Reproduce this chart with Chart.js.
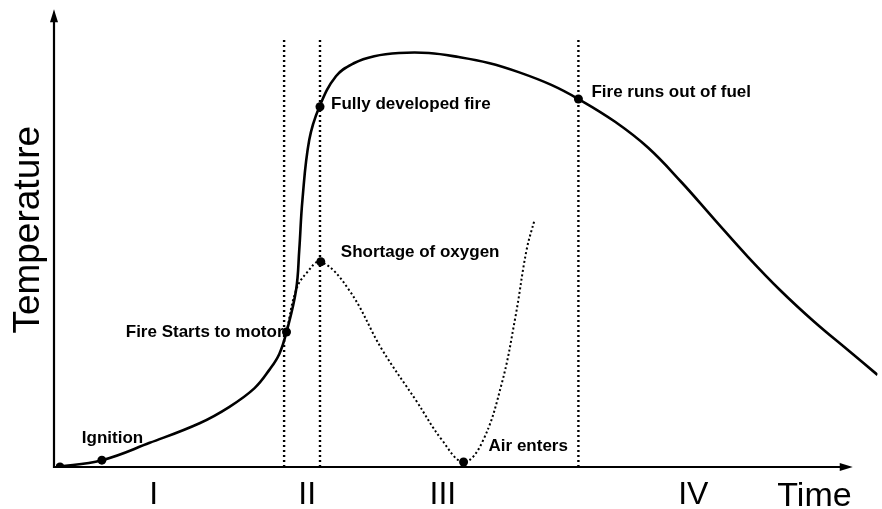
<!DOCTYPE html>
<html><head><meta charset="utf-8">
<script src="https://cdn.jsdelivr.net/npm/chart.js@4/dist/chart.umd.min.js"></script>
<style>html,body{margin:0;padding:0;background:#fff}#wrap{width:882px;height:509px;position:relative}canvas{display:block}</style>
</head><body><div id="wrap"><canvas id="c" width="882" height="509"></canvas></div>
<script>
// ---- data (time / temperature in arbitrary units) ----
const solidX = [0, 5.75, 11.75, 18, 21.75, 24.9, 26.75, 28, 28.9, 30.1, 30.5, 30.9, 31.75, 33, 35.1, 37.4, 39.9, 43, 46.75, 50.5, 54.25, 58, 62.1, 65.5, 70.1, 74.25, 78.4, 82.6, 86.75, 90.9, 95.1, 99.25, 103];
const solidY = [0, 1.5, 5.3, 9.6, 13.2, 17.3, 21.3, 24.8, 29.6, 38.8, 47.6, 58.6, 71.7, 78.9, 85.7, 88.6, 90.1, 90.8, 90.8, 89.9, 88.6, 86.6, 83.8, 80.7, 75.7, 70.0, 62.5, 54.2, 46.1, 38.6, 31.8, 25.7, 20.2];
const dottedX = [28.9, 30.1, 31.4, 33.2, 36.75, 40.9, 45.1, 48.4, 51.1, 53.4, 55.9, 57.6, 59, 60];
const dottedY = [29.6, 38.8, 42.5, 45.0, 38.8, 25.7, 14.7, 5.9, 1.1, 5.3, 18.4, 32.9, 47.6, 54.2];
const eventNames = ['', 'Ignition', 'Fire Starts to motor', 'Fully developed fire', 'Shortage of oxygen', 'Fire runs out of fuel', 'Air enters'];
const eventX = [0.5, 5.75, 28.9, 33.1, 33.2, 65.5, 51.1];
const eventY = [0, 1.5, 29.6, 79.0, 45.0, 80.7, 1.1];
const dividerX = [28.6, 33.1, 65.5];
const dividerTop = 93.8;
const tickValues = [12.25, 31.5, 48.5, 79.9, 95.1];
const tickLabels = ['I', 'II', 'III', 'IV', 'Time'];
const axisXEnd = 99.9;
const axisYEnd = 100.4;

// ---- styles ----
const labelStyle = [null,
  {dx: -20, dy: -17, align: 'left'},
  {dx: -3, dy: 5, align: 'right'},
  {dx: 11, dy: 2, align: 'left'},
  {dx: 20, dy: -5, align: 'left'},
  {dx: 13, dy: -2, align: 'left'},
  {dx: 25, dy: -11, align: 'left'}];
const target = {left: 56, top: 11, right: 880, bottom: 467};

Chart.defaults.font.family = '"Liberation Sans", Arial, sans-serif';
Chart.defaults.color = '#000';

const pts = (xs, ys) => xs.map((x, i) => ({x, y: ys[i]}));

const datasets = [
  {data: pts(solidX, solidY), showLine: true, borderColor: '#000', borderWidth: 2.6,
   pointRadius: 0, tension: 0.4},
  {data: pts(dottedX, dottedY), showLine: true, borderColor: '#000', borderWidth: 2,
   borderDash: [2, 2.5], pointRadius: 0, tension: 0.4}
];
dividerX.forEach(x => datasets.push({data: [{x, y: 0}, {x, y: dividerTop}], showLine: true,
  borderColor: '#000', borderWidth: 2.4, borderDash: [2, 3], pointRadius: 0}));
datasets.push({data: pts(eventX, eventY), showLine: false, pointRadius: 4.5,
  pointBackgroundColor: '#000', pointBorderColor: '#000', pointBorderWidth: 0});

const decor = {
  id: 'decor',
  beforeDatasetsDraw(chart) {
    const ctx = chart.ctx, sx = chart.scales.x, sy = chart.scales.y;
    const x0 = sx.getPixelForValue(0) - 2, y0 = sy.getPixelForValue(0);
    const xe = sx.getPixelForValue(axisXEnd), ye = sy.getPixelForValue(axisYEnd);
    ctx.save();
    ctx.strokeStyle = '#000'; ctx.fillStyle = '#000'; ctx.lineWidth = 2.2;
    ctx.beginPath(); ctx.moveTo(x0, y0 + 1); ctx.lineTo(x0, ye + 8); ctx.stroke();
    ctx.beginPath(); ctx.moveTo(x0 - 1, y0); ctx.lineTo(xe - 10, y0); ctx.stroke();
    ctx.beginPath(); ctx.moveTo(x0, ye); ctx.lineTo(x0 - 4, ye + 13); ctx.lineTo(x0 + 4, ye + 13); ctx.closePath(); ctx.fill();
    ctx.beginPath(); ctx.moveTo(xe, y0); ctx.lineTo(xe - 13, y0 - 4); ctx.lineTo(xe - 13, y0 + 4); ctx.closePath(); ctx.fill();
    ctx.restore();
  },
  afterDatasetsDraw(chart) {
    const ctx = chart.ctx, sx = chart.scales.x, sy = chart.scales.y;
    ctx.save();
    ctx.fillStyle = '#000';
    ctx.font = 'bold 17px "Liberation Sans", Arial, sans-serif';
    ctx.textBaseline = 'alphabetic';
    eventNames.forEach((name, i) => {
      if (!name) return;
      const st = labelStyle[i];
      ctx.textAlign = st.align;
      ctx.fillText(name, sx.getPixelForValue(eventX[i]) + st.dx, sy.getPixelForValue(eventY[i]) + st.dy);
    });
    ctx.restore();
  }
};

const pad = {left: 0, top: 0, right: 0, bottom: 0};
const chart = new Chart(document.getElementById('c'), {
  type: 'scatter',
  data: {datasets},
  options: {
    responsive: false, animation: false, devicePixelRatio: 1,
    layout: {padding: Object.assign({}, pad)},
    plugins: {legend: {display: false}, tooltip: {enabled: false}},
    scales: {
      x: {type: 'linear', min: 0, max: 103,
        grid: {display: false, drawTicks: false}, border: {display: false},
        afterBuildTicks: s => { s.ticks = tickValues.map(v => ({value: v})); },
        ticks: {autoSkip: false, maxRotation: 0, padding: 9,
          callback: (v, i) => tickLabels[i],
          font: c => ({size: (c.tick && tickLabels[c.index] === 'Time') ? 34 : 32})}},
      y: {type: 'linear', min: 0, max: 100,
        grid: {display: false, drawTicks: false}, border: {display: false},
        ticks: {display: false},
        title: {display: true, text: '\u2002Temperature', font: {size: 37}, padding: {top: 0, bottom: 5}}}
    }
  },
  plugins: [decor]
});
for (let k = 0; k < 4; k++) {
  const a = chart.chartArea;
  pad.left += target.left - a.left;
  pad.top += target.top - a.top;
  pad.right += a.right - target.right;
  pad.bottom += a.bottom - target.bottom;
  chart.options.layout.padding = Object.assign({}, pad);
  chart.update('none');
}
</script></body></html>
